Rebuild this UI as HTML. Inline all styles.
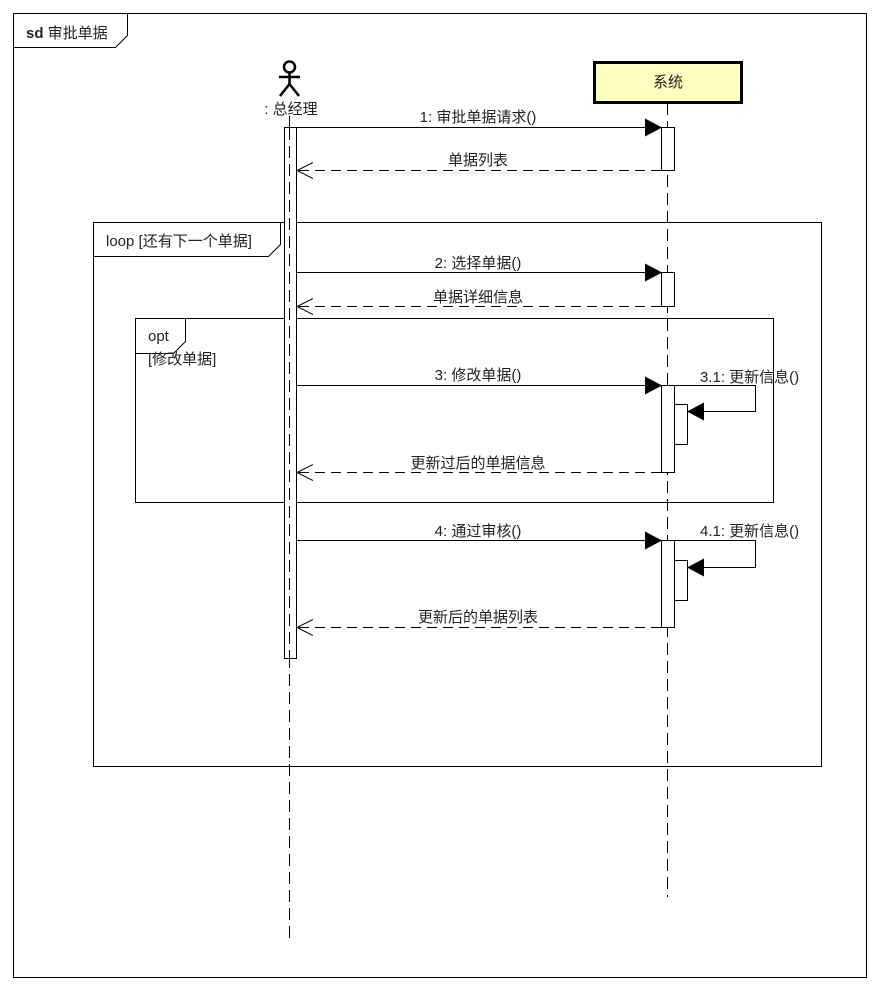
<!DOCTYPE html><html><head><style>body{margin:0;background:#fff}text{font-family:"Liberation Sans","Noto Sans CJK SC",sans-serif;font-size:15px;fill:#222}</style></head><body>
<svg width="880" height="990" xmlns="http://www.w3.org/2000/svg">
<defs><marker id="f" markerWidth="18" markerHeight="18" refX="16" refY="9" orient="auto" markerUnits="userSpaceOnUse"><path d="M0,0 L17,9 L0,18z" fill="#000"/></marker>
<marker id="o" markerWidth="18" markerHeight="18" refX="16" refY="9" orient="auto" markerUnits="userSpaceOnUse"><path d="M0,1 L16,9 L0,17" fill="none" stroke="#000"/></marker></defs>
<g fill="none" stroke="#000" stroke-width="1">
<rect x="13.5" y="13.5" width="853" height="964"/>
<path d="M13.5,47.5 H115.5 L127.5,35.5 V13.5"/>
<rect x="93.5" y="222.5" width="728" height="544"/>
<path d="M93.5,256.5 H268.5 L280.5,244.5 V222.5"/>
<rect x="135.5" y="318.5" width="638" height="184"/>
<path d="M135.5,353.5 H173.5 L185.5,341.5 V318.5"/>
<path d="M289.5,116 V938 M667.5,103 V897" stroke-dasharray="12,6"/>
<circle cx="289.5" cy="67" r="5.5" stroke-width="2.5"/>
<path d="M289.5,73 V84 M279,77 H300 M280,96 L289.5,84 L299,96" stroke-width="2.5"/>
</g>
<rect x="594.5" y="62.5" width="147" height="40" fill="#ffffc0" stroke="#000" stroke-width="3"/>
<g fill="#fff" stroke="#000">
<rect x="284.5" y="127.5" width="12" height="531"/>
<rect x="661.5" y="127.5" width="13" height="43"/>
<rect x="661.5" y="272.5" width="13" height="34"/>
<rect x="661.5" y="385.5" width="13" height="87"/>
<rect x="674.5" y="404.5" width="13" height="40"/>
<rect x="661.5" y="540.5" width="13" height="87"/>
<rect x="674.5" y="560.5" width="13" height="40"/>
</g>
<path d="M289.5,128 V658" stroke="#000" stroke-dasharray="12,6"/>
<g stroke="#000" fill="none">
<path d="M296,127.5 H661" marker-end="url(#f)"/>
<path d="M661,170.5 H297" stroke-dasharray="10,6" marker-end="url(#o)"/>
<path d="M296,272.5 H661" marker-end="url(#f)"/>
<path d="M661,306.5 H297" stroke-dasharray="10,6" marker-end="url(#o)"/>
<path d="M296,385.5 H661" marker-end="url(#f)"/>
<path d="M674,385.5 H755.5 V411.5 H688" marker-end="url(#f)"/>
<path d="M661,472.5 H297" stroke-dasharray="10,6" marker-end="url(#o)"/>
<path d="M296,540.5 H661" marker-end="url(#f)"/>
<path d="M674,540.5 H755.5 V567.5 H688" marker-end="url(#f)"/>
<path d="M661,627.5 H297" stroke-dasharray="10,6" marker-end="url(#o)"/>
</g>
<text x="26" y="38"><tspan font-weight="bold">sd</tspan> 审批单据</text>
<text x="106" y="246">loop  [还有下一个单据]</text>
<text x="148" y="341">opt</text>
<text x="148" y="364">[修改单据]</text>
<text x="291" y="114" text-anchor="middle">: 总经理</text>
<text x="668" y="87" text-anchor="middle">系统</text>
<text x="478" y="122" text-anchor="middle">1: 审批单据请求()</text>
<text x="478" y="165" text-anchor="middle">单据列表</text>
<text x="478" y="268" text-anchor="middle">2: 选择单据()</text>
<text x="478" y="302" text-anchor="middle">单据详细信息</text>
<text x="478" y="380" text-anchor="middle">3: 修改单据()</text>
<text x="700" y="382">3.1: 更新信息()</text>
<text x="478" y="468" text-anchor="middle">更新过后的单据信息</text>
<text x="478" y="536" text-anchor="middle">4: 通过审核()</text>
<text x="700" y="536">4.1: 更新信息()</text>
<text x="478" y="622" text-anchor="middle">更新后的单据列表</text>
</svg></body></html>
